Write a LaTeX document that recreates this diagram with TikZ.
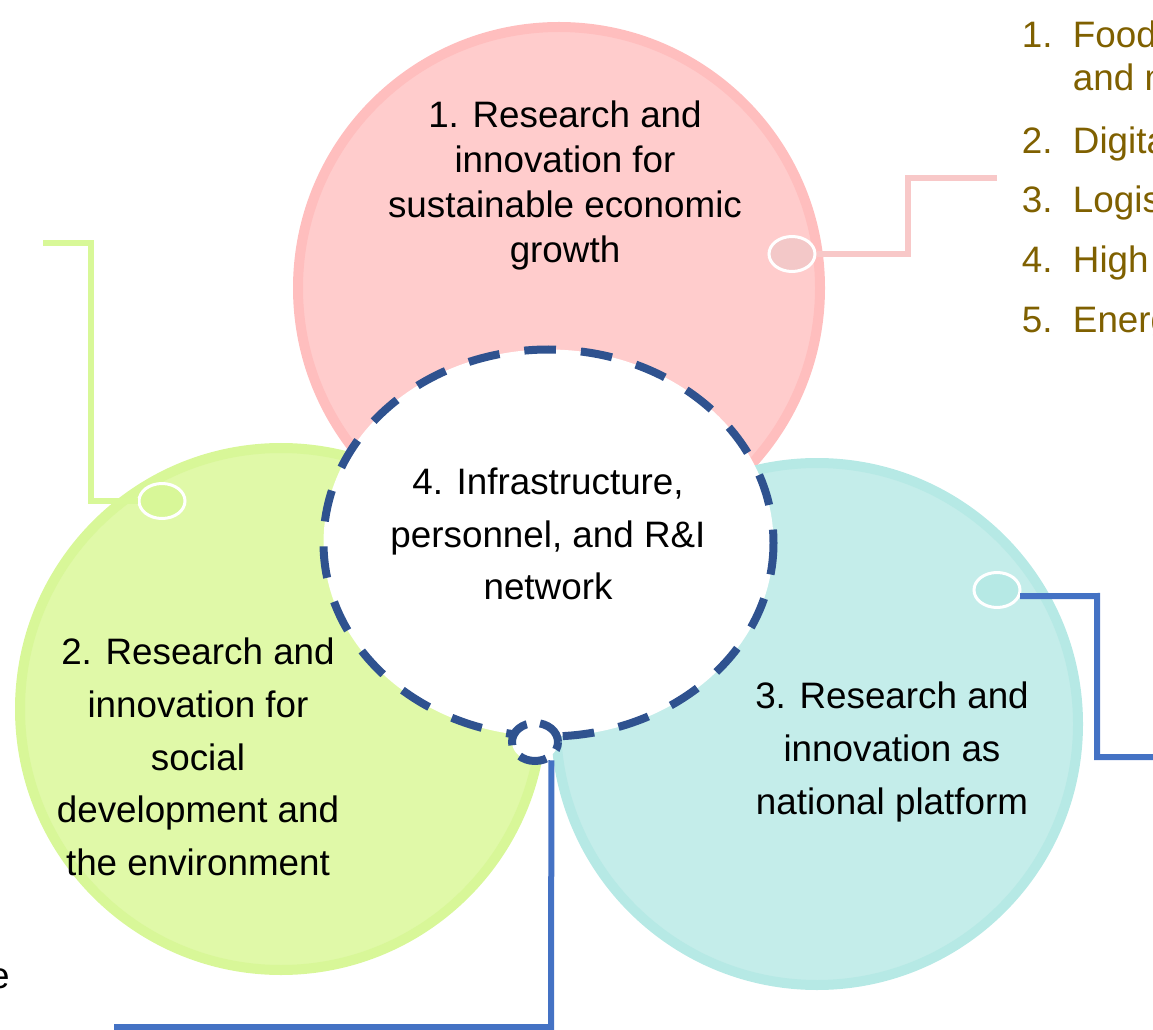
\documentclass[tikz,border=0pt]{standalone}
\usepackage{fontspec}
\setmainfont{Liberation Sans}
\usetikzlibrary{shapes.geometric}

\definecolor{pinkfill}{RGB}{255,204,204}
\definecolor{pinkring}{RGB}{255,190,190}
\definecolor{pinkdot}{RGB}{243,200,200}
\definecolor{pinkline}{RGB}{248,200,200}
\definecolor{greenfill}{RGB}{224,249,168}
\definecolor{greenring}{RGB}{216,247,152}
\definecolor{greenline}{RGB}{216,248,152}
\definecolor{cyanfill}{RGB}{196,237,234}
\definecolor{cyanring}{RGB}{182,233,229}
\definecolor{dashblue}{RGB}{47,82,143}
\definecolor{lineblue}{RGB}{68,114,196}
\definecolor{listbrown}{RGB}{127,96,0}

\tikzset{every picture/.style={line width=0.75pt}}
\tikzset{
  bigtext/.style={align=center, font=\fontsize{27.6}{39.6}\selectfont},
  listtext/.style={anchor=base west, text=listbrown, font=\fontsize{27.6}{32.3}\selectfont},
  dot/.style={ellipse, draw=white, line width=2.25pt, inner sep=0pt, minimum width=34.5pt, minimum height=26.25pt},
  ring/.style={line width=7.5pt},
  elbow/.style={line width=4.5pt},
  rimdash/.style={draw=dashblue, line width=6pt, dash pattern=on 23.75pt off 18.75pt, fill=white},
}

\begin{document}
\begin{tikzpicture}[x=0.75pt,y=0.75pt,yscale=-1,xscale=1]
		\useasboundingbox (0,0) rectangle (1153,1030);
		
		%Shape: Circle [pink]
		\draw [ring, draw=pinkring, fill=pinkfill] (559,288) circle (261);
		%Shape: Circle [green]
		\draw [ring, draw=greenring, fill=greenfill] (281,709) circle (261);
		%Shape: Circle [cyan]
		\draw [ring, draw=cyanring, fill=cyanfill] (817,724) circle (261);
		
		%Shape: Ellipse [centre]
		\draw [rimdash] (548.5,543) ellipse [x radius=225, y radius=193.5];
		
		%Small dots
		\node [dot, fill=pinkdot] (pinkdot) at (792,254) {};
		\node [dot, fill=greenring] (greendot) at (162,501) {};
		\node [dot, fill=cyanring] (cyandot) at (997,590) {};
		\node [ellipse, rimdash, dash pattern=on 21pt off 10pt, inner sep=0pt, minimum width=34.5pt, minimum height=28.5pt] (bdot) at (535,742) {};
		
		%Free ends
		\coordinate (pinkend) at (997,178);
		\coordinate (greenend) at (43,243);
		\coordinate (cyanend) at (1160,757);
		\coordinate (bottomend) at (114,1027);
		
		%Connectors
		\draw [elbow, pinkline] (pinkdot.east) -- (908,254) |- (pinkend);
		\draw [elbow, greenline] (greendot.west) -- (91,501) |- (greenend);
		\draw [elbow, lineblue] (cyandot.-15) -- (1097,596) |- (cyanend);
		\draw [elbow, lineblue] (bdot.-48) -- (551,1027) -- (bottomend);
		
		% Text Node
		\node [bigtext, font=\fontsize{27.6}{33.75}\selectfont] (econ) at (565,185) {1. Research and\\innovation for\\sustainable economic\\growth};
		% Text Node
		\node [bigtext] (social) at (198,757) {2. Research and\\innovation for\\social\\development and\\the environment};
		% Text Node
		\node [bigtext] (platform) at (892,752) {3. Research and\\innovation as\\national platform};
		% Text Node
		\node [bigtext] (infra) at (548,534) {4. Infrastructure,\\personnel, and R\&I\\network};
		
		% List
		\node [listtext] (num1) at (1017,48) {1.};
		\node [listtext] (item1) at (1068,48) {Food};
		\node [listtext] (item1b) at (1068,91) {and m};
		\node [listtext] (num2) at (1017,154) {2.};
		\node [listtext] (item2) at (1068,154) {Digita};
		\node [listtext] (num3) at (1017,213) {3.};
		\node [listtext] (item3) at (1068,213) {Logis};
		\node [listtext] (num4) at (1017,273) {4.};
		\node [listtext] (item4) at (1068,273) {High};
		\node [listtext] (num5) at (1017,333) {5.};
		\node [listtext] (item5) at (1068,333) {Energ};
		
		% Text Node
		\node [anchor=base east, inner sep=0pt, font=\fontsize{27.6}{33}\selectfont] (tail) at (10,988) {e};
		
\end{tikzpicture}
\end{document}
